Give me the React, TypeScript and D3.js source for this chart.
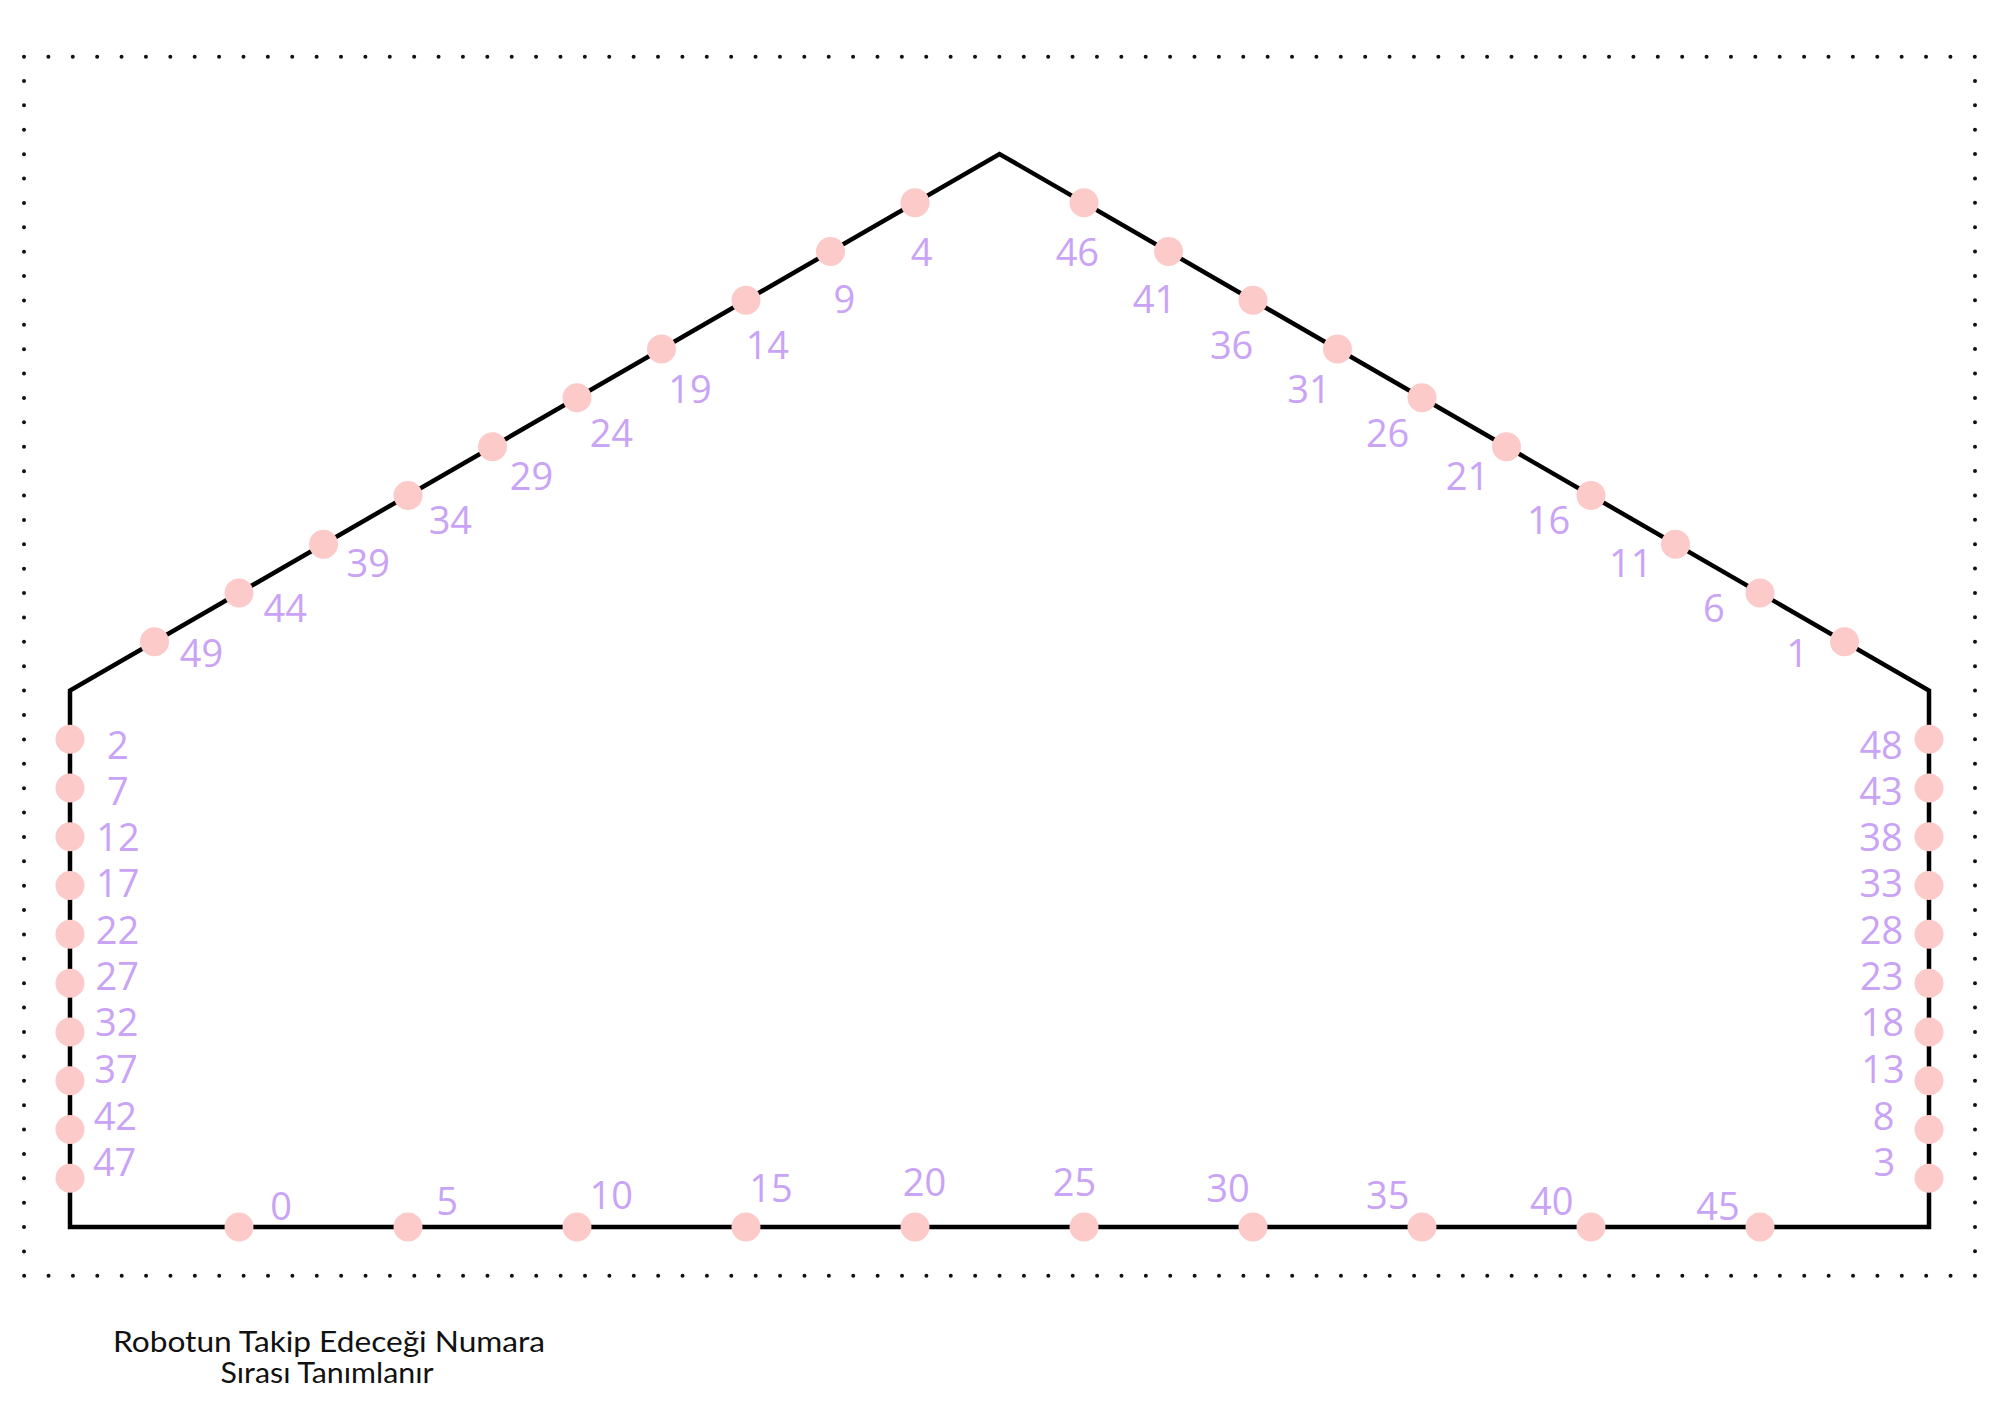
import * as React from "react";
import * as d3 from "d3";

// house outline in grid units (bottom-left, left eave, apex, right eave, bottom-right)
const houseCorners: [number, number][] = [
  [0, 0],
  [0, 11],
  [11, 22],
  [22, 11],
  [22, 0],
];

// station numbers on every side, listed in the direction of travel along that side
const bottomNumbers = [0, 5, 10, 15, 20, 25, 30, 35, 40, 45]; // left -> right
const rightRoofNumbers = [1, 6, 11, 16, 21, 26, 31, 36, 41, 46]; // eave -> apex
const leftWallNumbers = [2, 7, 12, 17, 22, 27, 32, 37, 42, 47]; // top -> bottom
const rightWallNumbers = [3, 8, 13, 18, 23, 28, 33, 38, 43, 48]; // bottom -> top
const leftRoofNumbers = [4, 9, 14, 19, 24, 29, 34, 39, 44, 49]; // apex -> eave

const captionLines = ["Robotun Takip Edeceği Numara", "Sırası Tanımlanır"];

const W = 2000;
const H = 1413;

const sides = [
  { numbers: bottomNumbers, from: houseCorners[0], to: houseCorners[4] },
  { numbers: rightRoofNumbers, from: houseCorners[3], to: houseCorners[2] },
  { numbers: leftWallNumbers, from: houseCorners[1], to: houseCorners[0] },
  { numbers: rightWallNumbers, from: houseCorners[4], to: houseCorners[3] },
  { numbers: leftRoofNumbers, from: houseCorners[2], to: houseCorners[1] },
];

export default function App() {
  const xScale = d3.scaleLinear().domain([0, 22]).range([70, 1929]);
  const yScale = d3.scaleLinear().domain([0, 22]).range([1227, 154]);

  const outline = houseCorners.map(([x, y]) => [xScale(x), yScale(y)] as [number, number]);
  const outlinePath = d3.line()(outline) + "Z";
  const [cx, cy] = d3.polygonCentroid(outline);

  const stations = sides.flatMap((side) => {
    const along = d3.interpolateArray(side.from, side.to);
    const n = side.numbers.length + 1;
    return side.numbers.map((num, k) => {
      const [gx, gy] = along((k + 1) / n) as number[];
      const px = xScale(gx);
      const py = yScale(gy);
      const dx = cx - px;
      const dy = cy - py;
      const len = Math.hypot(dx, dy);
      return {
        num,
        px,
        py,
        lx: px + (dx / len) * 48,
        ly: py + (dy / len) * 48 + 2,
      };
    });
  });

  // dotted frame
  const frame = { x: 24, y: 56.7, w: 1951, h: 1219 };

  return (
    <div style={{ position: "absolute", left: 0, top: 0, width: W, height: H, background: "#fff" }}>
      <svg width={W} height={H} style={{ display: "block" }}>
        <rect
          x={frame.x}
          y={frame.y}
          width={frame.w}
          height={frame.h}
          fill="none"
          stroke="#111"
          strokeWidth={4}
          strokeLinecap="round"
          strokeDasharray="0 24.385"
        />
        <path d={outlinePath} fill="none" stroke="#000" strokeWidth={4.5} strokeLinejoin="miter" />
        <g>
          {stations.map((s) => (
            <circle key={"c" + s.num} cx={s.px} cy={s.py} r={14.5} fill="#fdcaca" />
          ))}
        </g>
        <g fontFamily='"Open Sans", sans-serif' fontSize={38} fill="#c9a3f6" textAnchor="middle">
          {stations.map((s) => (
            <text key={"t" + s.num} x={s.lx} y={s.ly} dy="0.36em">
              {s.num}
            </text>
          ))}
        </g>
        <g fontFamily="Lato, sans-serif" fontSize={28} fill="#111" textAnchor="middle">
          <text x={329} y={1352} textLength={432} lengthAdjust="spacingAndGlyphs">
            {captionLines[0]}
          </text>
          <text x={327} y={1383} textLength={213} lengthAdjust="spacingAndGlyphs">
            {captionLines[1]}
          </text>
        </g>
      </svg>
    </div>
  );
}
